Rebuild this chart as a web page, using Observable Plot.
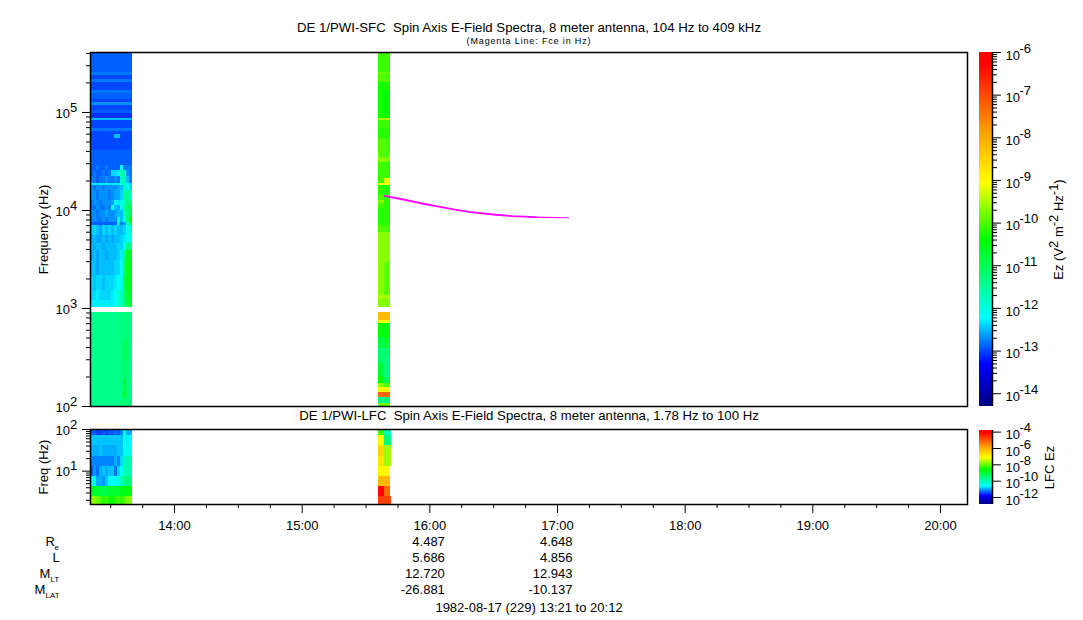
<!DOCTYPE html>
<html><head><meta charset="utf-8">
<script src="https://cdn.jsdelivr.net/npm/d3@7"></script>
<script src="https://cdn.jsdelivr.net/npm/@observablehq/plot@0.6"></script>
<style>
html,body{margin:0;padding:0;background:#fff}
#c{position:relative;width:1083px;height:620px;overflow:hidden}
#c svg{position:absolute;background:transparent;max-width:none}
.spaced text{letter-spacing:.85px}
</style></head><body><div id="c"></div>
<script>
const titleSfc = "DE 1/PWI-SFC  Spin Axis E-Field Spectra, 8 meter antenna, 104 Hz to 409 kHz";
const subtitleSfc = "(Magenta Line: Fce in Hz)";
const titleLfc = "DE 1/PWI-LFC  Spin Axis E-Field Spectra, 8 meter antenna, 1.78 Hz to 100 Hz";
const footer = "1982-08-17 (229) 13:21 to 20:12";

// Left block time span (minutes after 13:00 UTC)
const leftStart = 20.5, leftEnd = 40.3;
const midEdgeMinutes = [155.9, 158.7, 161.3];
const lfcMidEdgeMinutes = [155.9, 158.7];
const lfcMidRight = [162.0, 162.0, 162.0, 162.0, 160.9, 161.5, 161.5, 162.0];

// SFC left block, upper bands: log10(Hz) of the band top, level in tenths of log10(V2 m-2 Hz-1)
const sfcUpperTop = [5.612,5.408,5.378,5.337,5.306,5.224,5.194,5.173,5.133,5.102,5.071,5.020,4.990,4.939,4.918,4.837,4.806,4.776,4.694,4.612,4.571,4.510];
const sfcUpperLevel = [-129,-128,-130,-128,-130,-128,-129,-129,-130,-127,-130,-129,-131,-125,-130,-128,-130,-130,-130,-129,-129,-129];
const sfcUpperBottom = 4.459;
// small patch in the upper part
const patchMinutes = [31.8, 34.6], patchBand = [4.776, 4.735], patchLevel = -125;

// SFC left block, lower bands: 14 columns each
const sfcLowerTop = [4.459,4.408,4.347,4.276,4.250,4.204,4.102,4.051,4.000,3.929,3.878,3.847,3.745,3.663,3.592,3.490,3.337,3.184,3.082,3.010,2.959,2.673,2.469,2.286,2.224,2.143,2.092];
const sfcLowerBottom = 2.0;
const sfcLowerLevel = [
 [-129,-129,-128,-129,-129,-128,-129,-129,-129,-129,-122,-128,-128,-128],
 [-129,-128,-129,-129,-128,-129,-128,-124,-124,-123,-116,-118,-127,-128],
 [-128,-128,-129,-128,-128,-127,-128,-128,-127,-128,-118,-116,-125,-128],
 [-123,-123,-123,-123,-123,-123,-123,-123,-123,-123,-120,-116,-122,-124],
 [-127,-128,-127,-127,-128,-127,-127,-127,-127,-126,-125,-116,-120,-124],
 [-127,-127,-128,-127,-127,-127,-128,-127,-126,-126,-124,-116,-114,-118],
 [-128,-127,-127,-128,-127,-127,-127,-126,-122,-123,-120,-118,-113,-113],
 [-128,-128,-127,-128,-128,-127,-128,-122,-125,-126,-122,-115,-112,-110],
 [-127,-127,-128,-127,-127,-126,-127,-127,-126,-125,-125,-118,-114,-109],
 [-128,-127,-128,-128,-127,-128,-127,-127,-127,-118,-125,-122,-113,-104],
 [-129,-129,-129,-129,-129,-129,-129,-129,-129,-115,-128,-126,-118,-110],
 [-125,-124,-125,-126,-124,-125,-124,-125,-124,-125,-125,-124,-121,-118],
 [-126,-125,-126,-126,-125,-126,-125,-126,-125,-125,-124,-123,-122,-120],
 [-125,-126,-125,-125,-126,-125,-125,-125,-125,-124,-124,-122,-113,-113],
 [-126,-125,-126,-125,-125,-126,-125,-125,-125,-124,-123,-113,-108,-106],
 [-125,-125,-126,-125,-125,-125,-125,-125,-124,-124,-122,-111,-107,-105],
 [-124,-125,-124,-124,-125,-124,-124,-124,-123,-122,-120,-110,-107,-105],
 [-124,-124,-123,-124,-124,-124,-124,-123,-122,-119,-117,-112,-108,-106],
 [-123,-123,-123,-123,-123,-123,-123,-123,-122,-119,-117,-113,-109,-107],
 [null,null,null,null,null,null,null,null,null,null,null,null,null,null],
 [-114,-114,-114,-114,-114,-114,-114,-114,-114,-114,-113,-113,-113,-113],
 [-114,-114,-114,-114,-114,-114,-114,-114,-114,-114,-113,-110,-112,-113],
 [-114,-114,-114,-114,-114,-114,-114,-114,-114,-114,-113,-111,-113,-113],
 [-114,-114,-114,-114,-114,-114,-114,-114,-114,-114,-113,-106,-113,-113],
 [-114,-114,-114,-114,-114,-114,-114,-114,-114,-114,-113,-109,-113,-113],
 [-114,-114,-114,-114,-114,-114,-114,-114,-114,-114,-113,-107,-113,-113],
 [-114,-114,-114,-114,-114,-114,-114,-114,-114,-114,-113,-112,-113,-113]
];

// SFC middle block
const sfcMidTop = [5.612,5.408,5.388,5.306,5.224,4.939,4.918,4.837,4.735,4.541,4.490,4.327,4.276,4.255,4.153,4.102,4.071,4.020,3.847,3.776,3.469,3.133,3.102,3.010,2.959,2.878,2.847,2.704,2.592,2.500,2.439,2.296,2.235,2.194,2.143,2.092,2.031];
const sfcMidBottom = 2.0;
const sfcMidA = [-101,-99,-100,-103,-103,-95,-101,-102,-100,-97,-101,-101,-91,-102,-100,-97,-101,-102,-100,-97,-97,-95,-97,null,-82,-91,-105,-108,-112,-111,-107,-105,-97,-91,-73,-113,-98];
const sfcMidB = [-101,-99,-100,-103,-104,-95,-101,-102,-100,-97,-101,-92,-91,-102,-101,-102,-102,-102,-100,-97,-99,-95,-97,null,-82,-91,-105,-108,-112,-113,-113,-110,-100,-91,-73,-113,-98];

// Fce trace
const fceMinutes = [158.7,167.6,175.6,183.6,191.1,199.1,210.9,218.8,229.7];
const fceHz = [14125,12940,11850,10990,10240,9610,9040,8750,8550];
const fceTailMinutes = [229.7,242.8,245.2];
const fceTailHz = [8550,8430,8430];

// LFC
const lfcTop = [2,1.856,1.616,1.352,1.112,0.872,0.632,0.392];
const lfcBottom = 0.2;
const lfcLeftLevel = [
 [-114,-114,-115,-115,-114,-115,-114,-114,-113,-114,-112,-106,-110,-110],
 [-109,-109,-109,-109,-109,-109,-109,-109,-109,-109,-109,-106,-107,-106],
 [-110,-110,-110,-109,-110,-110,-110,-110,-110,-109,-109,-105,-105,-105],
 [-112,-112,-112,-112,-112,-112,-112,-112,-110,-112,-108,-101,-100,-100],
 [-114,-111,-113,-110,-109,-110,-109,-109,-113,-108,-106,-100,-100,-100],
 [-106,-103,-110,-110,-111,-109,-106,-106,-105,-104,-101,-97,-96,-96],
 [-89,-89,-90,-91,-92,-92,-90,-90,-90,-90,-88,-88,-87,-87],
 [-78,-78,-80,-82,-84,-83,-85,-86,-84,-82,-84,-81,-79,-79]
];
const lfcMidA = [-83,-71,-66,-68,-71,-62,-41,-48];
const lfcMidB = [-101,-96,-77,-77,-71,-62,-53,-48];

// Ticks, ephemeris
const hourTicks = [14,15,16,17,18,19,20];
const quarterMinutes = [30,45,75,90,105,135,150,165,195,210,225,255,270,285,315,330,345,375,390,405];
const ephTimes = [16,17];
const ephRows = [
 {vals:["4.487","4.648"], dy:37, main:"R", sub:"e", x:-45, sx:-36},
 {vals:["5.686","4.856"], dy:53, main:"L", sub:"", x:-38, sx:0},
 {vals:["12.720","12.943"], dy:69, main:"M", sub:"LT", x:-51, sx:-40},
 {vals:["-26.881","-10.137"], dy:85, main:"M", sub:"LAT", x:-56, sx:-45}
];
const sfcMajor = [2,3,4,5];
const lfcMajor = [1,2];
const ezMajor = [-14,-13,-12,-11,-10,-9,-8,-7,-6];
const lfcEzMajor = [-12,-10,-8,-6,-4];
const stopsT = [0,.12,.25,.47,.63,.76,.97,1];
const stopsC = ["#00007f","#0000ff","#00ffff","#00ff00","#ffff00","#ffaa00","#ff0000","#ff0000"];

const FONT = "'Liberation Sans', Arial, sans-serif";
const FS = 13;
const mins = m => new Date(Date.UTC(1982,7,17,13,0,0) + m*60000);
const ramp0 = d3.scaleLinear().domain(stopsT).range(stopsC);
const ramp = t => ramp0(t);
const sfcColor = {type:"log", domain:[10**-14.3,1e-6], interpolate:ramp, clamp:true};
const lfcColor = {type:"log", domain:[10**-12.9,10**-3.8], interpolate:ramp, clamp:true};
const xDomain = [mins(20.5), mins(432.7)];
const decadeMinors = (lo,hi) => { const o=[]; for(let e=lo;e<hi;e++) for(let m=2;m<10;m++){const v=m*10**e; o.push(v);} return o; };

// assemble cells
const lvl = v => 10**(v/10);
const colEdge = i => leftStart + (leftEnd-leftStart)*i/14;
const sfcCells = [];
sfcUpperTop.forEach((t,i)=>sfcCells.push({m1:leftStart,m2:leftEnd,top:t,bot:i+1<sfcUpperTop.length?sfcUpperTop[i+1]:sfcUpperBottom,v:sfcUpperLevel[i]}));
sfcCells.push({m1:patchMinutes[0],m2:patchMinutes[1],top:patchBand[0],bot:patchBand[1],v:patchLevel});
sfcLowerTop.forEach((t,i)=>sfcLowerLevel[i].forEach((v,j)=>{ if(v!==null) sfcCells.push({m1:colEdge(j),m2:colEdge(j+1),top:t,bot:i+1<sfcLowerTop.length?sfcLowerTop[i+1]:sfcLowerBottom,v}); }));
sfcMidTop.forEach((t,i)=>{ if(sfcMidA[i]===null) return; const bot=i+1<sfcMidTop.length?sfcMidTop[i+1]:sfcMidBottom;
  sfcCells.push({m1:midEdgeMinutes[0],m2:midEdgeMinutes[1],top:t,bot,v:sfcMidA[i]});
  sfcCells.push({m1:midEdgeMinutes[1],m2:midEdgeMinutes[2],top:t,bot,v:sfcMidB[i]});
});
const lfcCells = [];
lfcTop.forEach((t,i)=>{ const bot=i+1<lfcTop.length?lfcTop[i+1]:lfcBottom;
  lfcLeftLevel[i].forEach((v,j)=>lfcCells.push({m1:colEdge(j),m2:colEdge(j+1),top:t,bot,v}));
  lfcCells.push({m1:lfcMidEdgeMinutes[0],m2:lfcMidEdgeMinutes[1],top:t,bot,v:lfcMidA[i]});
  lfcCells.push({m1:lfcMidEdgeMinutes[1],m2:lfcMidRight[i],top:t,bot,v:lfcMidB[i]});
});
const cellMark = cells => Plot.rect(cells,{x1:d=>mins(d.m1),x2:d=>mins(d.m2),y1:d=>10**d.bot,y2:d=>10**d.top,fill:d=>lvl(d.v),shapeRendering:"crispEdges"});
const expLabels = (list,fa,dxBase,dxExp,dyBase,dyExp) => [
  Plot.text(list,{y:d=>10**d,text:()=>"10",frameAnchor:fa,textAnchor:"start",lineAnchor:"middle",dx:dxBase,dy:dyBase,fontSize:FS,fill:"black"}),
  Plot.text(list,{y:d=>10**d,text:d=>String(d),frameAnchor:fa,textAnchor:"start",lineAnchor:"middle",dx:dxExp,dy:dyExp,fontSize:FS,fill:"black"})
];
const baseStyle = {fontFamily:FONT,fontSize:"13px",background:"transparent",color:"black"};

// main SFC panel
const sfc = Plot.plot({
  width:1083,height:420,marginLeft:90,marginRight:116,marginTop:52,marginBottom:14,
  style:baseStyle,
  x:{type:"utc",domain:xDomain,axis:null},
  y:{type:"log",domain:[100,409000],axis:null},
  color:sfcColor,
  marks:[
    cellMark(sfcCells),
    Plot.lineY(fceMinutes.map((m,i)=>({t:mins(m),f:fceHz[i]})),{x:"t",y:"f",stroke:"#ff00ff",strokeWidth:1.8}),
    Plot.lineY(fceTailMinutes.map((m,i)=>({t:mins(m),f:fceTailHz[i]})),{x:"t",y:"f",stroke:"#ff00ff",strokeWidth:1.1}),
    Plot.frame({stroke:"black",strokeWidth:1.5}),
    Plot.axisY(decadeMinors(2,5).concat([2e5,3e5,4e5]),{tickSize:4,fill:"none",stroke:"black"}),
    Plot.axisY(sfcMajor.map(e=>10**e),{tickSize:8,fill:"none",stroke:"black"}),
    ...expLabels(sfcMajor,"left",-35,-20.5,1,-5),
    Plot.text([ "Frequency (Hz)" ],{frameAnchor:"left",dx:-47,rotate:-90,textAnchor:"middle",lineAnchor:"middle",fontSize:FS,fill:"black"}),
    Plot.text([titleSfc],{frameAnchor:"top",dy:-25,lineAnchor:"middle",fontSize:13.2,fill:"black"}),
    Plot.text([subtitleSfc],{frameAnchor:"top",dy:-11,lineAnchor:"middle",fontSize:9,fill:"black",className:"spaced"})
  ]
});
sfc.style.left="0px"; sfc.style.top="0px";

// LFC panel
const lfc = Plot.plot({
  width:1083,height:220,marginLeft:90,marginRight:116,marginTop:29,marginBottom:116,
  style:baseStyle,
  x:{type:"utc",domain:xDomain,axis:null},
  y:{type:"log",domain:[10**0.2,100],axis:null},
  color:lfcColor,
  marks:[
    cellMark(lfcCells),
    Plot.frame({stroke:"black",strokeWidth:1.5}),
    Plot.axisY([2,3,4,5,6,7,8,9,20,30,40,50,60,70,80,90],{tickSize:4,fill:"none",stroke:"black"}),
    Plot.axisY(lfcMajor.map(e=>10**e),{tickSize:8,fill:"none",stroke:"black"}),
    ...expLabels(lfcMajor,"left",-35,-20.5,1,-5),
    Plot.text(["Freq (Hz)"],{frameAnchor:"left",dx:-47,rotate:-90,textAnchor:"middle",lineAnchor:"middle",fontSize:FS,fill:"black"}),
    Plot.axisX(quarterMinutes.map(mins),{tickSize:4,fill:"none",stroke:"black"}),
    Plot.axisX(hourTicks.map(h=>mins((h-13)*60)),{tickSize:9,tickPadding:7,tickFormat:d3.utcFormat("%H:%M"),label:null,stroke:"black",fill:"black",fontSize:FS}),
    Plot.text([titleLfc],{frameAnchor:"top",dy:-14,lineAnchor:"middle",fontSize:13.2,fill:"black"}),
    ...ephRows.flatMap(r=>[
      Plot.text(r.vals,{x:(d,i)=>mins((ephTimes[i]-13)*60),text:d=>d,frameAnchor:"bottom",dx:15,dy:r.dy,textAnchor:"end",lineAnchor:"middle",fontSize:FS,fill:"black"}),
      Plot.text([r.main],{frameAnchor:"bottom-left",dx:r.x,dy:r.dy,textAnchor:"start",lineAnchor:"middle",fontSize:FS,fill:"black"}),
      ...(r.sub?[Plot.text([r.sub],{frameAnchor:"bottom-left",dx:r.sx,dy:r.dy+5.5,textAnchor:"start",lineAnchor:"middle",fontSize:8,fill:"black"})]:[])
    ]),
    Plot.text([footer],{frameAnchor:"bottom",dy:103,lineAnchor:"middle",fontSize:FS,fill:"black"})
  ]
});
lfc.style.left="0px"; lfc.style.top="400px";

// colour bars
function colorBar(opts){
  const {lo,hi,major,minor,color,height,marginTop,marginBottom,top,titleParts,titleDx} = opts;
  const samples = d3.range(0,400).map(i=>lo+(hi-lo)*i/400);
  const step=(hi-lo)/400;
  const ctx=document.createElement("canvas").getContext("2d"); ctx.font=FS+"px 'Liberation Sans'";
  const widths=titleParts.map(p=>ctx.measureText(p.t).width);
  const total=d3.sum(widths); let off=-total/2;
  const titleMarks=titleParts.map((p,i)=>{const m=Plot.text([p.t],{frameAnchor:"right",dx:titleDx-(p.up?5:0),dy:-off,rotate:-90,textAnchor:"start",lineAnchor:"middle",fontSize:FS,fill:"black"}); off+=widths[i]; return m;});
  const bar = Plot.plot({
    width:113,height,marginLeft:9,marginRight:91,marginTop,marginBottom,
    style:baseStyle,
    x:{domain:[0,1],axis:null},
    y:{type:"log",domain:[10**lo,10**hi],axis:null},
    color,
    marks:[
      Plot.rect(samples,{x1:()=>0,x2:()=>1,y1:d=>10**d,y2:d=>10**(d+step*1.2),fill:d=>10**(d+step/2),shapeRendering:"crispEdges"}),
      Plot.ruleX([1],{stroke:"black",strokeWidth:1.5}),
      ...(minor?[Plot.axisY(minor,{anchor:"right",tickSize:4,fill:"none",stroke:"black"})]:[]),
      Plot.axisY(major.map(e=>10**e),{anchor:"right",tickSize:8,fill:"none",stroke:"black"}),
      ...expLabels(major,"right",13,27,3,-4),
      ...titleMarks
    ]
  });
  bar.style.left="970px"; bar.style.top=top+"px";
  return bar;
}
const ezMinor = decadeMinors(-14,-6);
const barA = colorBar({lo:-14.3,hi:-6,major:ezMajor,minor:ezMinor,color:sfcColor,height:420,marginTop:52,marginBottom:14,top:0,
  titleParts:[{t:"Ez (V"},{t:"2",up:1},{t:" m"},{t:"-2",up:1},{t:" Hz"},{t:"-1",up:1},{t:")"}],titleDx:66});
const barB = colorBar({lo:-12.85,hi:-3.8,major:lfcEzMajor,minor:null,color:lfcColor,height:220,marginTop:30,marginBottom:116,top:400,
  titleParts:[{t:"LFC Ez"}],titleDx:57});

const host=document.getElementById("c");
[sfc,lfc,barA,barB].forEach(s=>host.appendChild(s));
</script></body></html>
